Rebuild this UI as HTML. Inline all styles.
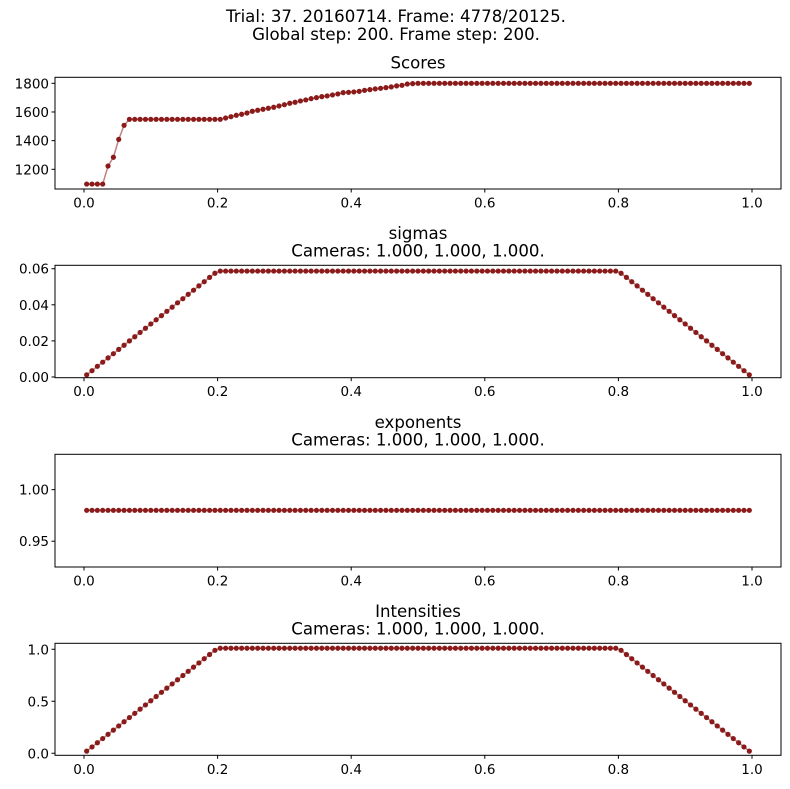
<!DOCTYPE html>
<html><head><meta charset="utf-8"><style>
html,body{margin:0;padding:0;background:#fff;}
svg{display:block;font-family:"DejaVu Sans","Liberation Sans",sans-serif;}
</style></head><body>
<svg id="fig" width="790" height="789" viewBox="0 0 790 789" xmlns="http://www.w3.org/2000/svg">
<rect width="790" height="789" fill="#fff"/>
<text x="396" y="22" text-anchor="middle" font-size="16.6">Trial: 37. 20160714. Frame: 4778/20125.</text>
<text x="396" y="40" text-anchor="middle" font-size="16.6">Global step: 200. Frame step: 200.</text>
</svg>
<script>
const scores = [1097,1097,1097,1097,1223,1284,1409,1507,
1549,1549,1549,1549,1549,1549,1549,1549,1549,1549,1549,1549,1549,1549,1549,1549,1549,1549,
1558,1567,1577,1584,1593,1605,1612,1619,1626,1633,1642,1651,1661,1668,1677,1684,1693,1700,1707,1712,1719,1726,1735,1737,1740,1744,1751,1756,1761,1765,1770,1775,1782,1786,1795,1798,
1800,1800,1800,1800,1800,1800,1800,1800,1800,1800,1800,1800,1800,1800,1800,1800,1800,1800,1800,1800,1800,
1800,1800,1800,1800,1800,1800,1800,1800,1800,1800,1800,1800,1800,1800,1800,1800,1800,1800,1800,1800,1800,
1800,1800,1800,1800,1800,1800,1800,1800,1800,1800,1800,1800,1800,1800,1800,1800,1800,1800,1800,1800,1800];
const sigmas = [.0012,.0035,.0059,.0082,.0106,.0129,.0153,.0176,.0200,.0223,.0247,.0270,.0294,.0317,.0340,.0364,.0387,.0411,.0434,.0458,.0481,.0505,.0528,.0552,.0575,
.0587,.0587,.0587,.0587,.0587,.0587,.0587,.0587,.0587,.0587,.0587,.0587,.0587,.0587,.0587,.0587,.0587,.0587,.0587,.0587,.0587,.0587,.0587,.0587,.0587,
.0587,.0587,.0587,.0587,.0587,.0587,.0587,.0587,.0587,.0587,.0587,.0587,.0587,.0587,.0587,.0587,.0587,.0587,.0587,.0587,.0587,.0587,.0587,.0587,.0587,
.0587,.0587,.0587,.0587,.0587,.0587,.0587,.0587,.0587,.0587,.0587,.0587,.0587,.0587,.0587,.0587,.0587,.0587,.0587,.0587,.0587,.0587,.0587,.0587,.0587,
.0575,.0552,.0528,.0505,.0481,.0458,.0434,.0411,.0387,.0364,.0340,.0317,.0294,.0270,.0247,.0223,.0200,.0176,.0153,.0129,.0106,.0082,.0059,.0035,.0012];
const exponents = [.98,.98,.98,.98,.98,.98,.98,.98,.98,.98,.98,.98,.98,.98,.98,.98,.98,.98,.98,.98,.98,.98,.98,.98,.98,
.98,.98,.98,.98,.98,.98,.98,.98,.98,.98,.98,.98,.98,.98,.98,.98,.98,.98,.98,.98,.98,.98,.98,.98,.98,
.98,.98,.98,.98,.98,.98,.98,.98,.98,.98,.98,.98,.98,.98,.98,.98,.98,.98,.98,.98,.98,.98,.98,.98,.98,
.98,.98,.98,.98,.98,.98,.98,.98,.98,.98,.98,.98,.98,.98,.98,.98,.98,.98,.98,.98,.98,.98,.98,.98,.98,
.98,.98,.98,.98,.98,.98,.98,.98,.98,.98,.98,.98,.98,.98,.98,.98,.98,.98,.98,.98,.98,.98,.98,.98,.98];
const intensities = [.0202,.0606,.101,.1414,.1818,.2222,.2626,.303,.3434,.3838,.4242,.4646,.505,.5454,.5858,.6262,.6666,.707,.7474,.7878,.8282,.8686,.909,.9494,.9898,
1.01,1.01,1.01,1.01,1.01,1.01,1.01,1.01,1.01,1.01,1.01,1.01,1.01,1.01,1.01,1.01,1.01,1.01,1.01,1.01,1.01,1.01,1.01,1.01,1.01,
1.01,1.01,1.01,1.01,1.01,1.01,1.01,1.01,1.01,1.01,1.01,1.01,1.01,1.01,1.01,1.01,1.01,1.01,1.01,1.01,1.01,1.01,1.01,1.01,1.01,
1.01,1.01,1.01,1.01,1.01,1.01,1.01,1.01,1.01,1.01,1.01,1.01,1.01,1.01,1.01,1.01,1.01,1.01,1.01,1.01,1.01,1.01,1.01,1.01,1.01,
.9898,.9494,.909,.8686,.8282,.7878,.7474,.707,.6666,.6262,.5858,.5454,.505,.4646,.4242,.3838,.3434,.303,.2626,.2222,.1818,.1414,.101,.0606,.0202];
const xTicks = [0.0,0.2,0.4,0.6,0.8,1.0];
const xTickLabels = ["0.0","0.2","0.4","0.6","0.8","1.0"];
const scoreTicks = [1200,1400,1600,1800];
const sigmaTicks = [0,0.02,0.04,0.06];
const sigmaTickLabels = ["0.00","0.02","0.04","0.06"];
const expTicks = [0.95,1.00];
const expTickLabels = ["0.95","1.00"];
const intTicks = [0,0.5,1.0];
const intTickLabels = ["0.0","0.5","1.0"];

const NS="http://www.w3.org/2000/svg";
const svg=document.getElementById('fig');
function mk(tag,attrs,parent){const e=document.createElementNS(NS,tag);for(const k in attrs)e.setAttribute(k,attrs[k]);(parent||svg).appendChild(e);return e;}
const L=55,R=781;
function xs(v){return 84+668*v;}
const panels=[
 {name:'scores',titles:['Scores'],top:77.3,bot:189,ymin:1062.6,ymax:1842,vals:scores,ticks:scoreTicks,labels:scoreTicks.map(String)},
 {name:'sigmas',titles:['sigmas','Cameras: 1.000, 1.000, 1.000.'],top:265.3,bot:377.7,ymin:-0.0004,ymax:0.0619,vals:sigmas,ticks:sigmaTicks,labels:sigmaTickLabels},
 {name:'exponents',titles:['exponents','Cameras: 1.000, 1.000, 1.000.'],top:454.3,bot:567,ymin:0.925,ymax:1.0343,vals:exponents,ticks:expTicks,labels:expTickLabels},
 {name:'intensities',titles:['Intensities','Cameras: 1.000, 1.000, 1.000.'],top:643.3,bot:755.3,ymin:-0.0197,ymax:1.0573,vals:intensities,ticks:intTicks,labels:intTickLabels}
];
panels.forEach(p=>{
 const g=mk('g',{});
 
 
 const ys=v=>p.bot-(v-p.ymin)/(p.ymax-p.ymin)*(p.bot-p.top);
 p.titles.forEach((t,k)=>{
  const n=p.titles.length;
  const tx=mk('text',{x:(L+R)/2,y:p.top-9-(n-1-k)*17.5,'text-anchor':'middle','font-size':'16.6'},g);
  tx.textContent=t;
  
  
 });
 const n=p.vals.length;
 const pts=p.vals.map((v,i)=>[xs((i+0.5)/n),ys(v)]);
 const line=mk('polyline',{points:pts.map(q=>q.join(',')).join(' '),fill:'none',stroke:'#8b1a1a','stroke-opacity':'0.55','stroke-width':'1.5'},g);
 
 
 pts.forEach(q=>{
  const c=mk('circle',{cx:q[0],cy:q[1],r:2.6,fill:'#8b1a1a'},g);
  
  
 });
 const fr=mk('rect',{x:L,y:p.top,width:R-L,height:p.bot-p.top,fill:'none',stroke:'#000','stroke-width':'1'},g);
 
 
 xTicks.forEach((t,k)=>{
  const x=xs(t);
  mk('line',{x1:x,x2:x,y1:p.bot,y2:p.bot+3.5,stroke:'#000'},g);
  const tl=mk('text',{x:x,y:p.bot+18.5,'text-anchor':'middle','font-size':'13.5'},g);
  tl.textContent=xTickLabels[k];
  
  
 });
 p.ticks.forEach((t,k)=>{
  const y=ys(t);
  mk('line',{x1:L-3.5,x2:L,y1:y,y2:y,stroke:'#000'},g);
  const tl=mk('text',{x:L-6,y:y+5,'text-anchor':'end','font-size':'13.5'},g);
  tl.textContent=p.labels[k];
  
  
 });
});
</script>
</body></html>
